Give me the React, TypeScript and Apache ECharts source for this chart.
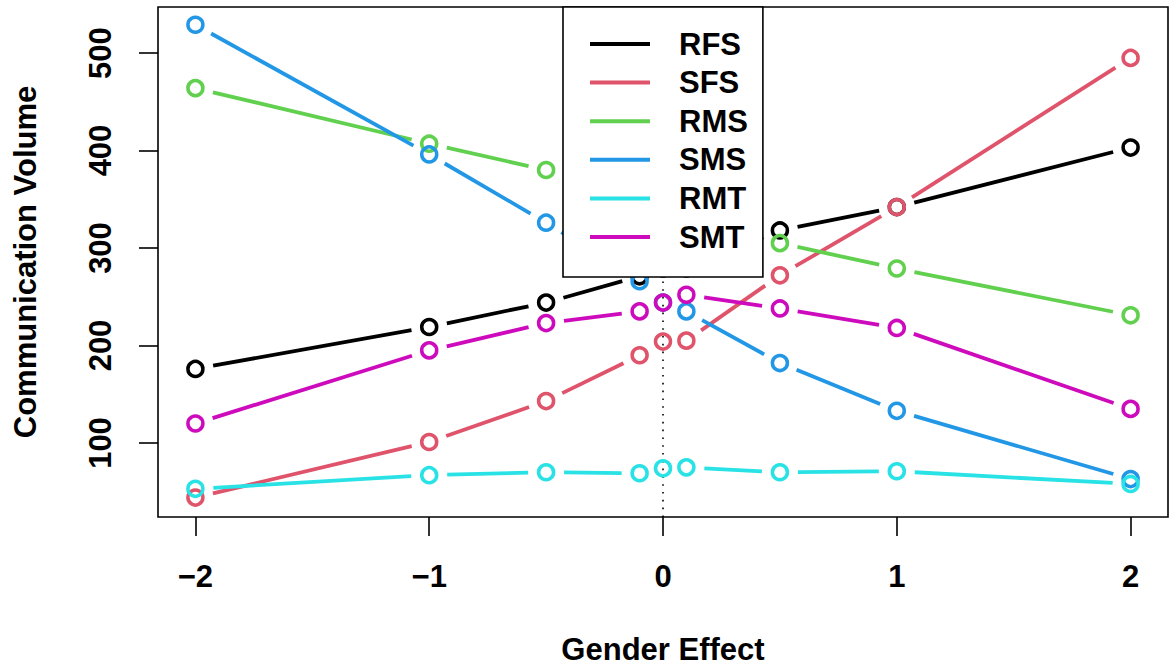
import React, { useEffect, useRef } from 'react';
import * as echarts from 'echarts';

// Gender effect levels (x) and communication volumes per series
const genderEffect = [-2, -1, -0.5, -0.1, 0, 0.1, 0.5, 1, 2];
const RFS = [176, 219, 244, 271, 279, 279, 318, 342, 403];
const SFS = [44, 101, 143, 190, 204, 205, 272, 342, 495];
const RMS = [464, 407, 380, 360, 348, 335, 305, 279, 231];
const SMS = [529, 396, 326, 266, 244, 235, 182, 133, 63];
const RMT = [53, 67, 70, 69, 74, 75, 70, 71, 58];
const SMT = [120, 195, 223, 235, 244, 252, 238, 218, 135];

const seriesNames = ['RFS', 'SFS', 'RMS', 'SMS', 'RMT', 'SMT'];
const seriesColors = ['#000000', '#DF536B', '#61D04F', '#2297E6', '#28E2E5', '#CD0BBC'];

const xTicks = [-2, -1, 0, 1, 2];
const yTicks = [100, 200, 300, 400, 500];

const FONT = '"Liberation Sans", Arial, Helvetica, sans-serif';
const GAP = 18;
const LW = 3.8;

export default function App() {
  const ref = useRef<HTMLDivElement>(null);
  useEffect(() => {
    const chart = echarts.init(ref.current!, null, { renderer: 'svg' });
    const valueSets = [RFS, SFS, RMS, SMS, RMT, SMT];
    const series: any[] = [];
    valueSets.forEach((vals, k) => {
      const color = seriesColors[k];
      const segs: number[][] = [];
      for (let i = 0; i < genderEffect.length - 1; i++) {
        segs.push([genderEffect[i], vals[i], genderEffect[i + 1], vals[i + 1]]);
      }
      series.push({
        type: 'line',
        name: seriesNames[k],
        data: [],
        symbol: 'none',
        showSymbol: false,
        color,
        itemStyle: { color },
        lineStyle: { color, width: LW },
      });
      series.push({
        type: 'custom',
        name: seriesNames[k] + ' lines',
        data: segs,
        encode: { x: [0, 2], y: [1, 3] },
        z: 3 + k,
        silent: true,
        renderItem: (params: any, api: any) => {
          const p1 = api.coord([api.value(0), api.value(1)]);
          const p2 = api.coord([api.value(2), api.value(3)]);
          const dx = p2[0] - p1[0];
          const dy = p2[1] - p1[1];
          const len = Math.hypot(dx, dy);
          if (len <= 2 * GAP) return null;
          const ux = dx / len;
          const uy = dy / len;
          return {
            type: 'line',
            shape: {
              x1: p1[0] + ux * GAP,
              y1: p1[1] + uy * GAP,
              x2: p2[0] - ux * GAP,
              y2: p2[1] - uy * GAP,
            },
            style: { stroke: color, lineWidth: LW, lineCap: 'butt' },
          };
        },
      });
      const pts: any = {
        type: 'scatter',
        name: seriesNames[k] + ' points',
        data: genderEffect.map((g, i) => [g, vals[i]]),
        symbol: 'circle',
        symbolSize: 15,
        z: 3 + k,
        silent: true,
        itemStyle: { color: 'rgba(0,0,0,0)', borderColor: color, borderWidth: 3.5, opacity: 1 },
      };
      if (k === 0) {
        pts.markLine = {
          silent: true,
          symbol: 'none',
          label: { show: false },
          lineStyle: { color: '#000', width: 1.6, type: [1.6, 6.2] },
          data: [{ xAxis: 0 }],
        };
      }
      series.push(pts);
    });

    const axisText = { fontSize: 31, fontWeight: 'bold', color: '#000', fontFamily: FONT };

    chart.setOption({
      animation: false,
      backgroundColor: '#fff',
      grid: {
        left: 158,
        top: 7,
        right: 4,
        bottom: 149,
        containLabel: false,
        outerBoundsMode: 'none',
        show: true,
        borderColor: '#000',
        borderWidth: 1.6,
        backgroundColor: 'transparent',
      },
      legend: {
        data: seriesNames.map((n) => ({ name: n, icon: 'rect' })),
        orient: 'vertical',
        left: 563,
        top: 7,
        z: 20,
        itemWidth: 60,
        itemHeight: 4,
        itemGap: 7.6,
        padding: [21.5, 15, 24.5, 27],
        backgroundColor: '#fff',
        borderColor: '#000',
        borderWidth: 1.6,
        selectedMode: false,
        textStyle: { ...axisText, lineHeight: 31, padding: [0, 0, 0, 24] },
      },
      xAxis: {
        type: 'value',
        min: -2.16,
        max: 2.16,
        axisLine: { show: false, onZero: false },
        splitLine: { show: false },
        axisTick: { show: true, customValues: xTicks, length: 19, lineStyle: { color: '#000', width: 1.6 } },
        axisLabel: {
          customValues: xTicks,
          margin: 44,
          ...axisText,
          formatter: (v: number) => (v < 0 ? '\u2212' + Math.abs(v) : String(v)),
        },
        name: 'Gender Effect',
        nameLocation: 'middle',
        nameGap: 119,
        nameTextStyle: { ...axisText, lineHeight: 26 },
      },
      yAxis: {
        type: 'value',
        min: 24.1,
        max: 547.2,
        axisLine: { show: false, onZero: false },
        splitLine: { show: false },
        axisTick: { show: true, customValues: yTicks, length: 19, lineStyle: { color: '#000', width: 1.6 } },
        axisLabel: {
          customValues: yTicks,
          margin: 42,
          rotate: 90,
          ...axisText,
        },
        name: 'Communication Volume',
        nameLocation: 'middle',
        nameRotate: 90,
        nameGap: 117,
        nameTextStyle: axisText,
      },
      series,
    });
    return () => chart.dispose();
  }, []);
  return (
    <div
      ref={ref}
      style={{ position: 'fixed', left: 0, top: 0, width: 1172, height: 666, background: '#fff' }}
    />
  );
}
